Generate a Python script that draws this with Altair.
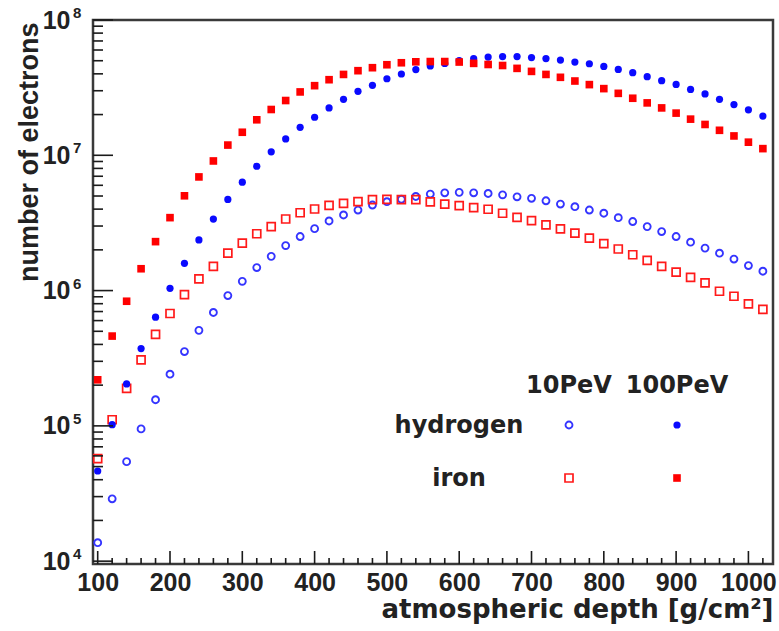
import altair as alt
import pandas as pd

# ---------------- data ----------------
depth = [100, 120, 140, 160, 180, 200, 220, 240, 260, 280, 300, 320, 340, 360, 380,
         400, 420, 440, 460, 480, 500, 520, 540, 560, 580, 600, 620, 640, 660, 680,
         700, 720, 740, 760, 780, 800, 820, 840, 860, 880, 900, 920, 940, 960, 980,
         1000, 1020]

# hydrogen 10 PeV (open blue circles)
h10 = [1.37e4, 2.89e4, 5.44e4, 9.50e4, 1.56e5, 2.41e5, 3.54e5, 5.08e5, 6.89e5, 9.19e5,
       1.17e6, 1.48e6, 1.79e6, 2.15e6, 2.51e6, 2.87e6, 3.27e6, 3.62e6, 3.94e6, 4.29e6,
       4.54e6, 4.73e6, 4.96e6, 5.17e6, 5.28e6, 5.32e6, 5.28e6, 5.22e6, 5.10e6, 4.93e6,
       4.81e6, 4.61e6, 4.36e6, 4.17e6, 3.94e6, 3.73e6, 3.46e6, 3.24e6, 2.97e6, 2.73e6,
       2.51e6, 2.28e6, 2.06e6, 1.89e6, 1.71e6, 1.53e6, 1.39e6]
# hydrogen 100 PeV (filled blue circles)
h100 = [4.64e4, 1.02e5, 2.04e5, 3.73e5, 6.36e5, 1.04e6, 1.59e6, 2.37e6, 3.38e6, 4.72e6,
        6.33e6, 8.30e6, 1.06e7, 1.32e7, 1.61e7, 1.91e7, 2.24e7, 2.59e7, 2.97e7, 3.29e7,
        3.68e7, 3.99e7, 4.30e7, 4.57e7, 4.77e7, 5.00e7, 5.19e7, 5.32e7, 5.37e7, 5.37e7,
        5.28e7, 5.19e7, 5.06e7, 4.89e7, 4.75e7, 4.54e7, 4.31e7, 4.08e7, 3.81e7, 3.56e7,
        3.34e7, 3.07e7, 2.84e7, 2.59e7, 2.37e7, 2.17e7, 1.95e7]
# iron 10 PeV (open red squares)
fe10 = [5.72e4, 1.11e5, 1.89e5, 3.07e5, 4.75e5, 6.77e5, 9.34e5, 1.22e6, 1.51e6, 1.89e6,
        2.24e6, 2.63e6, 2.97e6, 3.38e6, 3.76e6, 4.01e6, 4.27e6, 4.41e6, 4.54e6, 4.71e6,
        4.72e6, 4.70e6, 4.70e6, 4.53e6, 4.36e6, 4.24e6, 4.10e6, 3.99e6, 3.73e6, 3.48e6,
        3.29e6, 3.06e6, 2.86e6, 2.66e6, 2.44e6, 2.22e6, 2.03e6, 1.84e6, 1.67e6, 1.51e6,
        1.37e6, 1.25e6, 1.14e6, 9.89e5, 9.08e5, 7.98e5, 7.25e5]
# iron 100 PeV (filled red squares)
fe100 = [2.19e5, 4.61e5, 8.34e5, 1.45e6, 2.30e6, 3.46e6, 5.02e6, 6.92e6, 9.08e6, 1.19e7,
         1.48e7, 1.83e7, 2.18e7, 2.54e7, 2.94e7, 3.27e7, 3.62e7, 3.96e7, 4.22e7, 4.44e7,
         4.67e7, 4.83e7, 4.91e7, 4.93e7, 4.93e7, 4.89e7, 4.78e7, 4.69e7, 4.61e7, 4.39e7,
         4.17e7, 3.96e7, 3.77e7, 3.54e7, 3.33e7, 3.11e7, 2.87e7, 2.64e7, 2.44e7, 2.24e7,
         2.05e7, 1.85e7, 1.69e7, 1.53e7, 1.39e7, 1.25e7, 1.12e7]

x_major = [100, 200, 300, 400, 500, 600, 700, 800, 900, 1000]
x_minor = [v for v in range(120, 1021, 20) if v % 100 != 0]
y_major = [1e4, 1e5, 1e6, 1e7, 1e8]
y_exponents = ["4", "5", "6", "7", "8"]
y_minor = [m * 10 ** k for k in range(4, 8) for m in range(2, 10)]

legend_cols = ["10PeV", "100PeV"]
legend_rows = ["hydrogen", "iron"]
x_title = "atmospheric depth [g/cm²]"
y_title = "number of electrons"

# ---------------- layout / style ----------------
W, H = 680, 544
INK = "#222222"
XS = alt.Scale(domain=[93.5, 1034], nice=False, zero=False)
YS = alt.Scale(type="log", domain=[10 ** 3.979, 1e8], nice=False)

x_axis = alt.Axis(values=x_major, format="d", grid=False, domain=False, ticks=False,
                  labelFont="Liberation Sans", labelFontWeight="bold", labelFontSize=25,
                  labelColor=INK, labelPadding=6, labelFlush=False, labelOverlap=False,
                  title=x_title, titleFont="DejaVu Sans", titleFontWeight="bold",
                  titleFontSize=26, titleColor=INK, titleAlign="right",
                  titleX=W, titleY=53, titleBaseline="alphabetic")
y_axis = alt.Axis(values=y_major, labelExpr="'10'", grid=False, domain=False, ticks=False,
                  labelFont="Liberation Sans", labelFontWeight="bold",
                  labelFontSize=25, labelColor=INK, labelPadding=23, labelFlush=False,
                  labelOverlap=False, labelBaseline="middle",
                  title=y_title, titleFont="Liberation Sans", titleFontWeight="bold",
                  titleFontSize=27, titleColor=INK, titleAngle=270, titleAlign="right",
                  titleBaseline="alphabetic", titleX=-56, titleY=2)


def X(field):
    return alt.X(field, scale=XS, axis=x_axis)


def Y(field):
    return alt.Y(field, scale=YS, axis=y_axis)


styles = {
    "h10": dict(shape="circle", filled=False, color="#3535ff", size=48, strokeWidth=1.9),
    "h100": dict(shape="circle", filled=True, color="#0a0aff", size=52),
    "fe10": dict(shape="square", filled=False, color="#ff1a1a", size=64, strokeWidth=1.7),
    "fe100": dict(shape="square", filled=True, color="#ff0000", size=58),
}

layers = []
for key, vals in [("h10", h10), ("fe10", fe10), ("h100", h100), ("fe100", fe100)]:
    df = pd.DataFrame({"depth": depth, "n": vals})
    layers.append(
        alt.Chart(df).mark_point(opacity=1, **styles[key]).encode(
            x=X("depth:Q"), y=Y("n:Q"))
    )

# inward ticks (ROOT style)
tick_style = dict(color="#1a1a1a", strokeWidth=1.6)
layers.append(alt.Chart(pd.DataFrame({"v": y_major})).mark_rule(**tick_style).encode(
    y=Y("v:Q"), x=alt.value(0), x2=alt.value(20)))
layers.append(alt.Chart(pd.DataFrame({"v": y_minor})).mark_rule(**tick_style).encode(
    y=Y("v:Q"), x=alt.value(0), x2=alt.value(10)))
layers.append(alt.Chart(pd.DataFrame({"v": x_major})).mark_rule(**tick_style).encode(
    x=X("v:Q"), y=alt.value(H), y2=alt.value(H - 13)))
layers.append(alt.Chart(pd.DataFrame({"v": x_minor})).mark_rule(**tick_style).encode(
    x=X("v:Q"), y=alt.value(H), y2=alt.value(H - 6)))

# superscript exponents of the y tick labels
layers.append(alt.Chart(pd.DataFrame({"v": y_major, "e": y_exponents})).mark_text(
    align="left", baseline="middle", dy=-7, font="Liberation Sans", fontWeight="bold",
    fontSize=15, color=INK).encode(
    y=Y("v:Q"), x=alt.value(-20), text="e:N"))

# legend (2 x 2 grid)
leg_font = dict(font="DejaVu Sans", fontWeight="bold", fontSize=24, color=INK,
                align="center", baseline="alphabetic")
col_x = [476, 584]
row_y = [405, 458]
for label, cx in zip(legend_cols, col_x):
    layers.append(alt.Chart(pd.DataFrame({"t": [label]})).mark_text(**leg_font).encode(
        x=alt.value(cx), y=alt.value(373), text="t:N"))
for label, ty in zip(legend_rows, [413, 466]):
    layers.append(alt.Chart(pd.DataFrame({"t": [label]})).mark_text(**leg_font).encode(
        x=alt.value(366), y=alt.value(ty), text="t:N"))
for key, cx, ry in [("h10", col_x[0], row_y[0]), ("h100", col_x[1], row_y[0]),
                    ("fe10", col_x[0], row_y[1]), ("fe100", col_x[1], row_y[1])]:
    layers.append(alt.Chart(pd.DataFrame({"t": [key]})).mark_point(opacity=1, **styles[key]).encode(
        x=alt.value(cx), y=alt.value(ry)))

chart = alt.layer(*layers).properties(
    width=W, height=H,
    padding={"left": 93, "top": 20, "right": 6, "bottom": 67},
    autosize=alt.AutoSizeParams(type="none"),
    background="white",
).configure_view(stroke="#3a3a3a", strokeWidth=2.5)

chart.save("out.html", embed_options={"renderer": "svg", "actions": False})
